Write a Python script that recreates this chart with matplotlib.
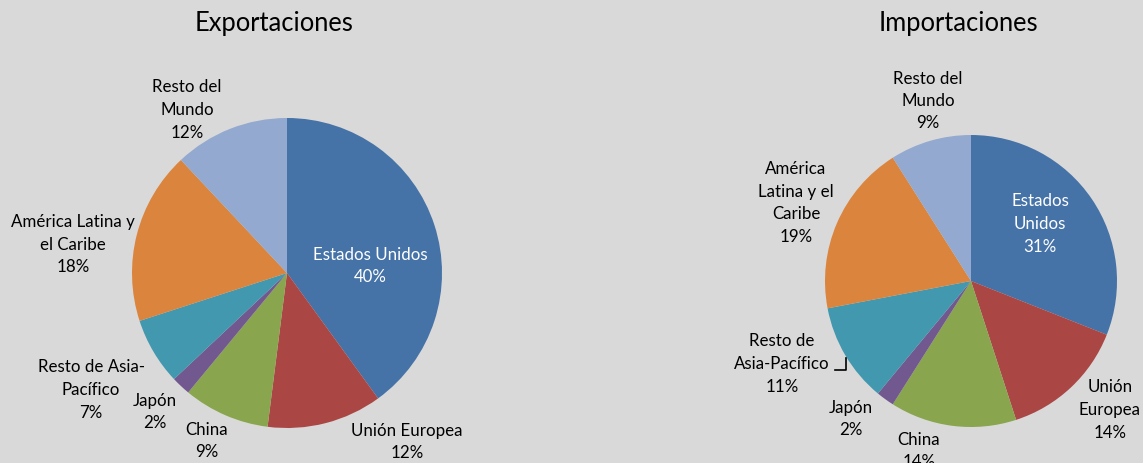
import matplotlib
matplotlib.use("Agg")
import matplotlib.pyplot as plt

# ======================
# 数据
# ======================
categories = ["Estados Unidos", "Unión Europea", "China", "Japón",
              "Resto de Asia-Pacífico", "América Latina y el Caribe", "Resto del Mundo"]
export_values = [40, 12, 9, 2, 7, 18, 12]
import_values = [31, 14, 14, 2, 11, 19, 9]

# 标签文本（与图中换行一致）
export_labels = ["Estados Unidos", "Unión Europea", "China", "Japón",
                 "Resto de Asia-\nPacífico", "América Latina y\nel Caribe", "Resto del\nMundo"]
import_labels = ["Estados\nUnidos", "Unión\nEuropea", "China", "Japón",
                 "Resto de\nAsia-Pacífico", "América\nLatina y el\nCaribe", "Resto del\nMundo"]

# ======================
# 配置
# ======================
W, H = 1143, 463
COLORS = ["#4572A7", "#AA4643", "#89A54E", "#71588F", "#4198AF", "#DB843D", "#93A9CF"]
BG = "#D9D9D9"
FONT = ["Lato", "DejaVu Sans"]
FS_LABEL = 12.2
FS_TITLE = 18.4

# 像素坐标 (x, y从上往下)
EXP_CENTER, EXP_R = (287, 273), 155
IMP_CENTER, IMP_R = (971, 281), 146
EXP_LABEL_POS = [(370, 266), (407, 442), (207, 441), (155, 412), (91, 390), (73, 245), (187, 110)]
IMP_LABEL_POS = [(1040, 224), (1110, 410), (919, 451), (851, 419), (782, 364), (796, 203), (928, 101)]


def draw_pie(ax, values, labels, center, radius, label_pos, title, title_x):
    cx, cy = center
    ax.pie(values, colors=COLORS, startangle=90, counterclock=False,
           center=(cx, H - cy), radius=radius, frame=True,
           wedgeprops=dict(linewidth=0))
    for i, (lab, v) in enumerate(zip(labels, values)):
        x, y = label_pos[i]
        color = "white" if i == 0 else "black"
        ax.text(x, H - y, f"{lab}\n{v}%", ha="center", va="center", fontsize=FS_LABEL,
                color=color, family=FONT, linespacing=1.5)
    ax.text(title_x, H - 23, title, ha="center", va="center", fontsize=FS_TITLE,
            family=FONT)


fig = plt.figure(figsize=(W / 100, H / 100), dpi=100, facecolor=BG)
ax = fig.add_axes([0, 0, 1, 1])
ax.set_facecolor(BG)

draw_pie(ax, export_values, export_labels, EXP_CENTER, EXP_R, EXP_LABEL_POS, "Exportaciones", 274)
draw_pie(ax, import_values, import_labels, IMP_CENTER, IMP_R, IMP_LABEL_POS, "Importaciones", 958)

# 引导线（Resto de Asia-Pacífico）
ax.plot([835, 846, 846], [H - 370, H - 370, H - 358], color="black", linewidth=1.2)

ax.set_xlim(0, W)
ax.set_ylim(0, H)
ax.set_aspect("equal")
ax.axis("off")

plt.savefig("out.png", dpi=100, facecolor=BG)
